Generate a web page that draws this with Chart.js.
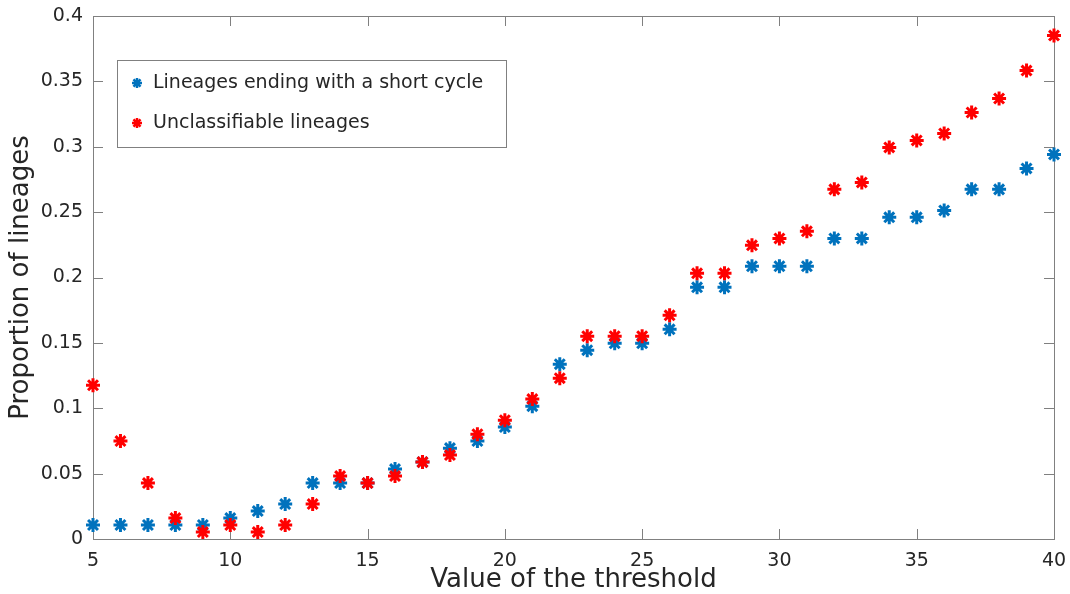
<!DOCTYPE html>
<html lang="en">
<head>
    <meta charset="UTF-8">
    <title>Proportion of lineages</title>
    <style>
        body { margin: 0; background: #fff; }
        #wrap { width: 1070px; height: 594px; }
    </style>
    <script src="https://cdn.jsdelivr.net/npm/chart.js@4"></script>
</head>
<body>
    <div id="wrap"><canvas id="chart"></canvas></div>
    <script>
        // data
        const thresholds = [5, 6, 7, 8, 9, 10, 11, 12, 13, 14, 15, 16, 17, 18, 19, 20, 21, 22,
                            23, 24, 25, 26, 27, 28, 29, 30, 31, 32, 33, 34, 35, 36, 37, 38, 39, 40];
        const shortCycle = [0.0107, 0.0107, 0.0107, 0.0107, 0.0107, 0.0160, 0.0214, 0.0267, 0.0428, 0.0428,
                            0.0428, 0.0535, 0.0588, 0.0695, 0.0749, 0.0856, 0.1016, 0.1337, 0.1444, 0.1497,
                            0.1497, 0.1604, 0.1925, 0.1925, 0.2086, 0.2086, 0.2086, 0.2299, 0.2299, 0.2460,
                            0.2460, 0.2513, 0.2674, 0.2674, 0.2834, 0.2941];
        const unclassifiable = [0.1176, 0.0749, 0.0428, 0.0160, 0.0053, 0.0107, 0.0053, 0.0107, 0.0267, 0.0481,
                                0.0428, 0.0481, 0.0588, 0.0642, 0.0802, 0.0909, 0.1070, 0.1230, 0.1551, 0.1551,
                                0.1551, 0.1711, 0.2032, 0.2032, 0.2246, 0.2299, 0.2353, 0.2674, 0.2727, 0.2995,
                                0.3048, 0.3102, 0.3262, 0.3369, 0.3583, 0.3850];
        const seriesLabels = ['Lineages ending with a short cycle', 'Unclassifiable lineages'];
        const xTicks = [5, 10, 15, 20, 25, 30, 35, 40];
        const yTicks = [0, 0.05, 0.1, 0.15, 0.2, 0.25, 0.3, 0.35, 0.4];
        const yTickLabels = ['0', '0.05', '0.1', '0.15', '0.2', '0.25', '0.3', '0.35', '0.4'];

        const FONT = "'DejaVu Sans', sans-serif";
        const TEXT = '#262626';
        const AXIS = '#808080';

        function drawStar(ctx, x, y, r, color, w) {
            ctx.save();
            ctx.strokeStyle = color;
            ctx.lineWidth = w;
            ctx.beginPath();
            for (let k = 0; k < 4; k++) {
                const a = k * Math.PI / 4;
                ctx.moveTo(x - Math.cos(a) * r, y - Math.sin(a) * r);
                ctx.lineTo(x + Math.cos(a) * r, y + Math.sin(a) * r);
            }
            ctx.stroke();
            ctx.restore();
        }

        // matlab style box with inward ticks on all four sides
        const axesBox = {
            id: 'axesBox',
            beforeDatasetsDraw(chart) {
                const { ctx, chartArea: a, scales: { x, y } } = chart;
                ctx.save();
                ctx.strokeStyle = AXIS;
                ctx.lineWidth = 1;
                ctx.strokeRect(a.left + 0.5, a.top + 0.5, a.right - a.left, a.bottom - a.top);
                ctx.beginPath();
                x.ticks.forEach(t => {
                    const px = Math.round(x.getPixelForValue(t.value)) + 0.5;
                    ctx.moveTo(px, a.bottom); ctx.lineTo(px, a.bottom - 10);
                    ctx.moveTo(px, a.top); ctx.lineTo(px, a.top + 10);
                });
                y.ticks.forEach(t => {
                    const py = Math.round(y.getPixelForValue(t.value)) + 0.5;
                    ctx.moveTo(a.left, py); ctx.lineTo(a.left + 10, py);
                    ctx.moveTo(a.right, py); ctx.lineTo(a.right - 10, py);
                });
                ctx.stroke();
                ctx.restore();
            }
        };

        const insetLegend = {
            id: 'insetLegend',
            afterDatasetsDraw(chart) {
                const ctx = chart.ctx;
                const bx = 117, by = 60, bw = 389, bh = 87;
                ctx.save();
                ctx.fillStyle = '#fff';
                ctx.fillRect(bx, by, bw, bh);
                ctx.strokeStyle = AXIS;
                ctx.lineWidth = 1;
                ctx.strokeRect(bx + 0.5, by + 0.5, bw, bh);
                ctx.font = '19px ' + FONT;
                ctx.fillStyle = TEXT;
                ctx.textBaseline = 'middle';
                chart.data.datasets.forEach((ds, i) => {
                    const cy = by + 23 + i * 40;
                    drawStar(ctx, bx + 20, cy, 5, ds.borderColor, 2.5);
                    ctx.fillText(ds.label, bx + 36, cy);
                });
                ctx.restore();
            }
        };

        const noPad = s => { s.paddingTop = 0; s.paddingBottom = 0; s.paddingLeft = 0; s.paddingRight = 0; };

        new Chart(document.getElementById('chart'), {
            type: 'scatter',
            data: {
                datasets: [
                    { label: seriesLabels[0], data: thresholds.map((t, i) => ({ x: t, y: shortCycle[i] })),
                      borderColor: '#0072BD', backgroundColor: '#0072BD', order: 1 },
                    { label: seriesLabels[1], data: thresholds.map((t, i) => ({ x: t, y: unclassifiable[i] })),
                      borderColor: '#FF0000', backgroundColor: '#FF0000', order: 0 }
                ]
            },
            options: {
                responsive: true,
                maintainAspectRatio: false,
                animation: false,
                layout: { padding: { top: 16, right: 16, left: 0, bottom: 0 } },
                elements: { point: { pointStyle: 'star', radius: 7, borderWidth: 3, hoverRadius: 7 } },
                datasets: { scatter: { clip: false } },
                plugins: { legend: { display: false }, tooltip: { enabled: false } },
                scales: {
                    x: {
                        type: 'linear', min: 5, max: 40,
                        grid: { display: false, drawTicks: false },
                        border: { display: false },
                        afterBuildTicks: s => { s.ticks = xTicks.map(v => ({ value: v })); },
                        afterFit: s => { s.height = 55; noPad(s); },
                        ticks: { padding: 11, color: TEXT, font: { family: FONT, size: 19 }, callback: v => String(v) },
                        title: { display: true, text: 'Value of the threshold', color: TEXT,
                                 font: { family: FONT, size: 26 }, padding: { top: 0, bottom: -2 } }
                    },
                    y: {
                        type: 'linear', min: 0, max: 0.4,
                        grid: { display: false, drawTicks: false },
                        border: { display: false },
                        afterBuildTicks: s => { s.ticks = yTicks.map(v => ({ value: v })); },
                        afterFit: s => { s.width = 93; noPad(s); },
                        ticks: { padding: 10, color: TEXT, font: { family: FONT, size: 19 },
                                 callback: (v, i) => yTickLabels[i] },
                        title: { display: true, text: 'Proportion of lineages', color: TEXT,
                                 font: { family: FONT, size: 26 }, padding: { top: 6, bottom: 0 } }
                    }
                }
            },
            plugins: [axesBox, insetLegend]
        });
    </script>
</body>
</html>
